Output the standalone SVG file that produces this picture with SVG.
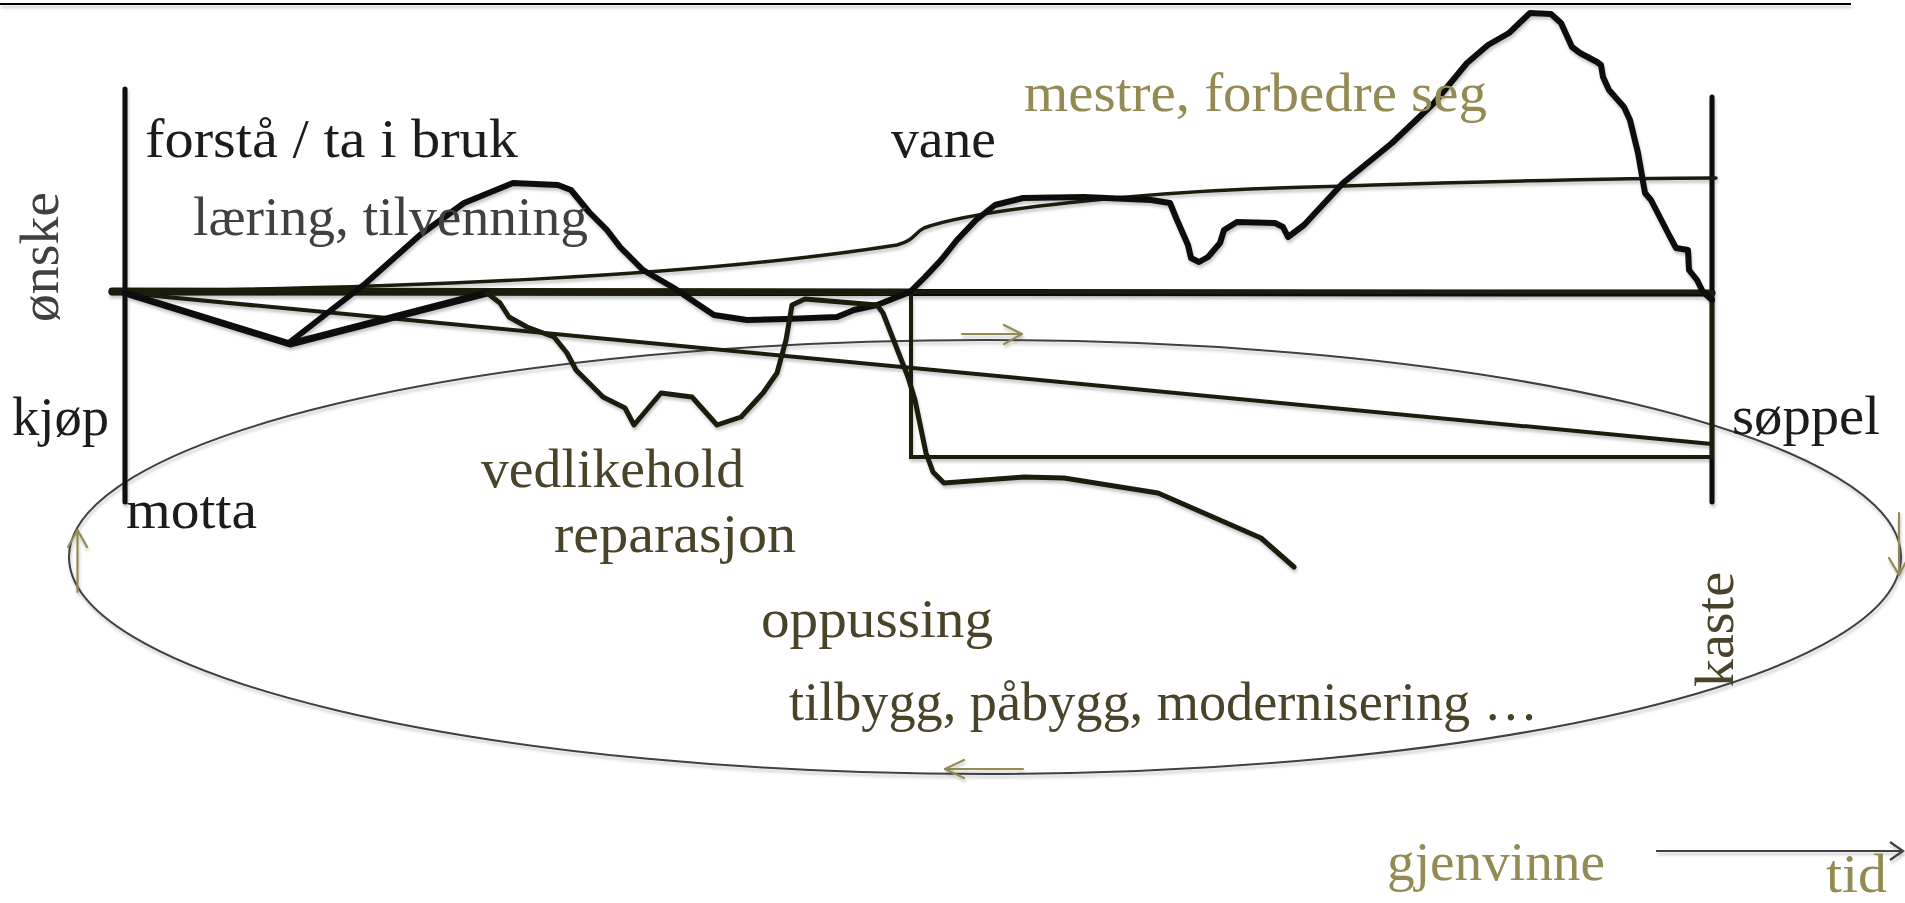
<svg xmlns="http://www.w3.org/2000/svg" width="1905" height="903" viewBox="0 0 1905 903">
<style>
  .t { font-family: "Liberation Serif", "DejaVu Serif", serif; font-size: 55px; }
  .blk { fill: #1c1c1c; }
  .gry { fill: #404040; }
  .olv { fill: #948a54; }
  .dol { fill: #494429; }
  .ln { fill: none; stroke-linejoin: round; stroke-linecap: round; }
  .k { stroke: #0d0d0d; }
  .b { stroke: #1d1b10; }
  .arr { fill: none; stroke: #948a54; stroke-width: 2.2; stroke-linecap: round; stroke-linejoin: round; }
</style>
<defs>
  <filter id="sh" x="-5%" y="-20%" width="110%" height="140%">
    <feDropShadow dx="1" dy="3" stdDeviation="1.8" flood-color="#000" flood-opacity="0.22"/>
  </filter>
</defs>
<rect width="1905" height="903" fill="#ffffff"/>

<g id="connectors" filter="url(#sh)">
  <line x1="0" y1="4" x2="1851" y2="4" stroke="#000" stroke-width="2.2"/>
  <ellipse cx="985" cy="557" rx="916" ry="217" fill="none" stroke="#404040" stroke-width="2"/>
  <line class="ln k" x1="112" y1="292" x2="1712" y2="293" stroke-width="7"/>
  <line class="ln b" x1="112" y1="291" x2="911" y2="292" stroke-width="7"/>
  <line class="ln k" x1="125" y1="89" x2="125" y2="502" stroke-width="5"/>
  <line class="ln k" x1="1712" y1="97" x2="1712" y2="502" stroke-width="5"/>
  <rect x="911" y="292" width="801" height="165" fill="none" stroke="#1d1b10" stroke-width="4"/>
  <line class="ln b" x1="124" y1="293" x2="1712" y2="444" stroke-width="4"/>
  <path class="ln b" stroke-width="3.5" d="M112,291 C400,289 700,276 897,245 C915,240 914,233 924,228 C980,208 1150,193 1250,189 C1400,184 1600,178 1716,178"/>
  <polyline class="ln k" stroke-width="7" points="125,293 290,344 487,293"/>
  <polyline class="ln k" stroke-width="6" points="290,342 366,283 420,235 464,203 513,183 558,185 571,190 589,212 607,230 620,247 643,270 674,288 696,303 714,315 747,320 786,319 837,317 854,310 877,305 910,292 925,277 941,260 957,240 976,220 995,205 1023,198 1084,197 1151,200 1170,203 1177,220 1188,245 1191,258 1199,262 1208,257 1220,243 1224,230 1237,222 1275,223 1283,227 1288,237 1304,225 1343,183 1392,143 1434,103 1467,63 1488,45 1509,33 1530,13 1551,14 1561,23 1572,47 1580,53 1597,62 1601,65 1603,77 1609,90 1624,107 1630,120 1638,153 1645,193 1651,200 1668,233 1676,248 1688,250 1689,270 1697,280 1703,292 1712,300"/>
  <polyline class="ln b" stroke-width="5" points="487,293 500,303 509,317 527,327 554,337 567,353 576,370 603,397 625,408 634,425 661,393 692,397 717,425 741,417 763,393 777,373 786,340 792,305 805,299 877,305 883,313 908,377 915,400 926,453 933,472 944,483 1024,477 1064,478 1158,493 1261,538 1294,567"/>
  <line x1="1656" y1="851" x2="1902" y2="851" stroke="#404040" stroke-width="2.2"/>
  <polyline points="1890,842 1903,851 1890,860" fill="none" stroke="#404040" stroke-width="2.2"/>
  <g class="arr">
    <line x1="962" y1="334" x2="1022" y2="334"/>
    <polyline points="1004,325 1022,334 1004,344"/>
    <line x1="1023" y1="769" x2="945" y2="769"/>
    <polyline points="964,760 945,769 964,778"/>
    <line x1="77.5" y1="592" x2="77.5" y2="530"/>
    <polyline points="68,547 77.5,530 87,547"/>
    <line x1="1899" y1="513" x2="1899" y2="575"/>
    <polyline points="1889,558 1899,575 1908,558"/>
  </g>
</g>

<g id="labels">
  <g id="forsta"><text class="t blk" x="145" y="157" textLength="373" lengthAdjust="spacingAndGlyphs">forstå / ta i bruk</text></g>
  <g id="laering"><text class="t gry" x="193" y="235" textLength="395" lengthAdjust="spacingAndGlyphs">læring, tilvenning</text></g>
  <g id="onske"><text class="t gry" transform="translate(58,322) rotate(-90)" textLength="130" lengthAdjust="spacingAndGlyphs">ønske</text></g>
  <g id="vane"><text class="t blk" x="891" y="157" textLength="105" lengthAdjust="spacingAndGlyphs">vane</text></g>
  <g id="mestre"><text class="t olv" x="1024" y="111" textLength="463" lengthAdjust="spacingAndGlyphs">mestre, forbedre seg</text></g>
  <g id="kjop"><text class="t blk" x="12" y="435" textLength="97" lengthAdjust="spacingAndGlyphs">kjøp</text></g>
  <g id="motta"><text class="t blk" x="126" y="528" textLength="131" lengthAdjust="spacingAndGlyphs">motta</text></g>
  <g id="vedlikehold"><text class="t dol" x="481" y="487" textLength="263" lengthAdjust="spacingAndGlyphs">vedlikehold</text></g>
  <g id="reparasjon"><text class="t dol" x="554" y="552" textLength="242" lengthAdjust="spacingAndGlyphs">reparasjon</text></g>
  <g id="oppussing"><text class="t dol" x="761" y="637" textLength="232" lengthAdjust="spacingAndGlyphs">oppussing</text></g>
  <g id="tilbygg"><text class="t dol" x="789" y="720" textLength="749" lengthAdjust="spacingAndGlyphs">tilbygg, påbygg, modernisering …</text></g>
  <g id="soppel"><text class="t blk" x="1732" y="434" textLength="148" lengthAdjust="spacingAndGlyphs">søppel</text></g>
  <g id="kaste"><text class="t dol" transform="translate(1733,687) rotate(-90)" textLength="115" lengthAdjust="spacingAndGlyphs">kaste</text></g>
  <g id="gjenvinne"><text class="t olv" x="1387" y="880" textLength="218" lengthAdjust="spacingAndGlyphs">gjenvinne</text></g>
  <g id="tid"><text class="t olv" x="1826" y="892" textLength="61" lengthAdjust="spacingAndGlyphs">tid</text></g>
</g>
</svg>
